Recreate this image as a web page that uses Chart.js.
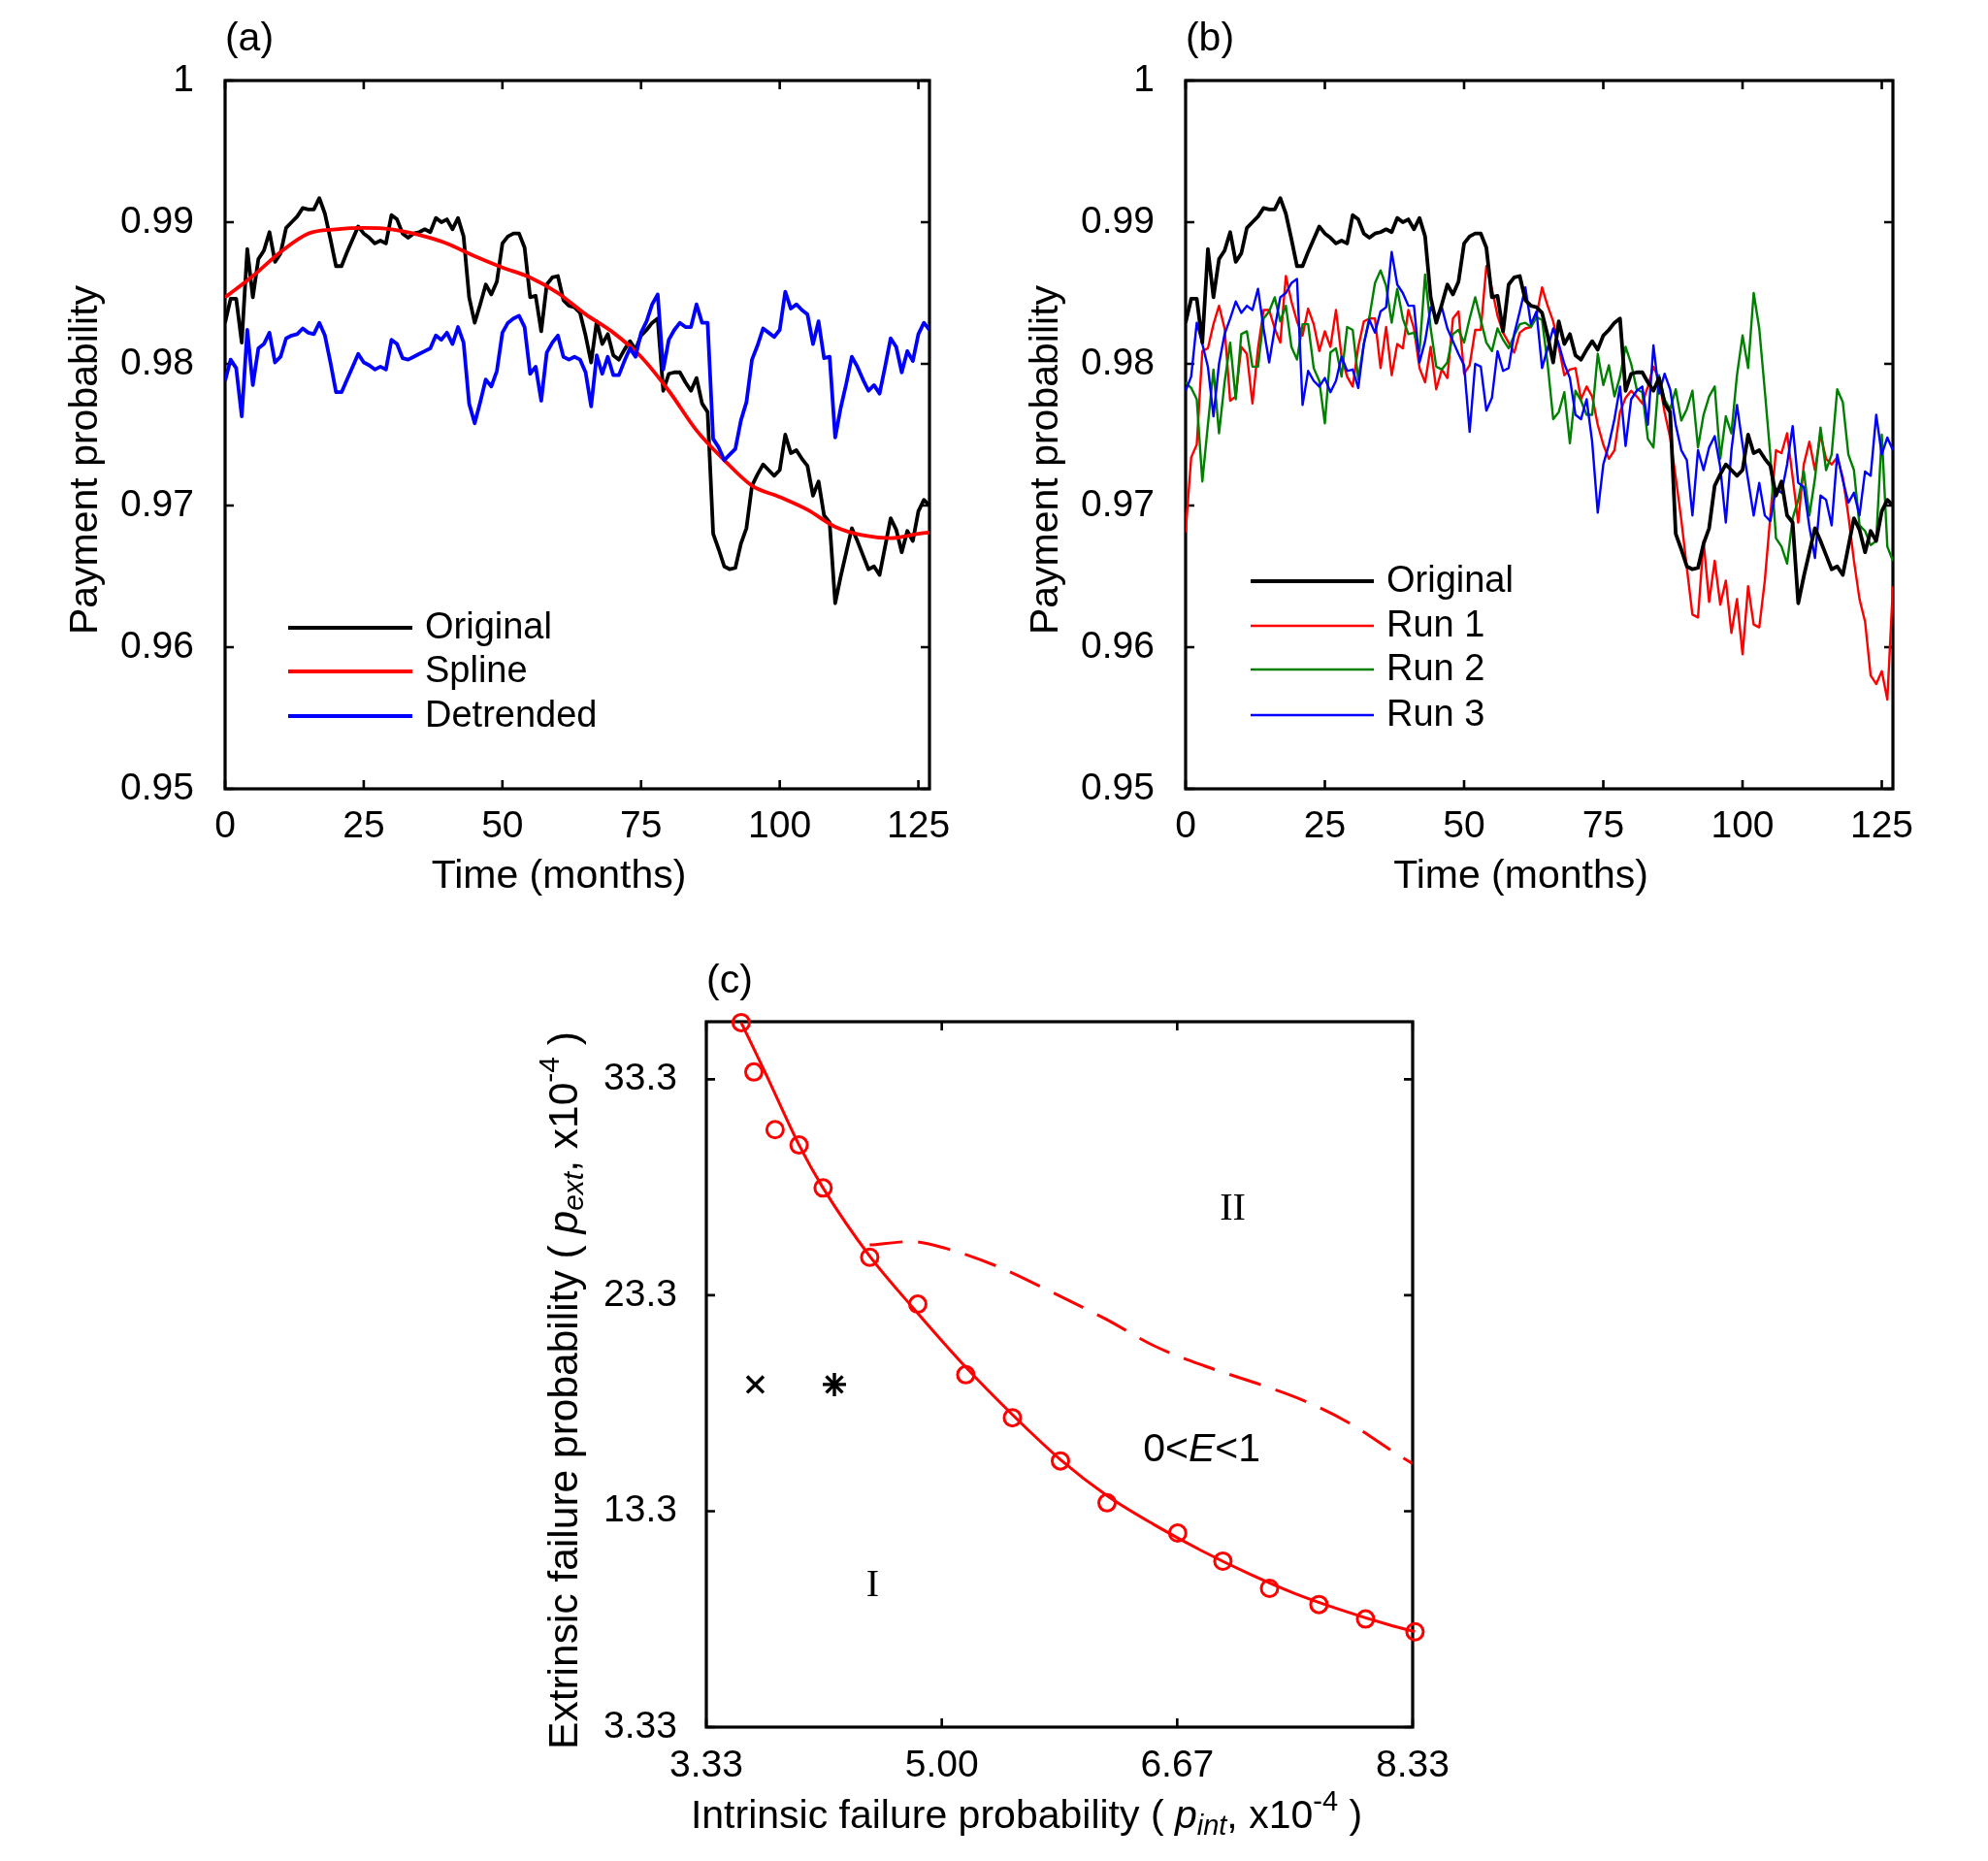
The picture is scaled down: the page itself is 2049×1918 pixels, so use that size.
<!DOCTYPE html>
<html><head><meta charset="utf-8">
<script src="https://cdn.jsdelivr.net/npm/chart.js@4.4.1/dist/chart.umd.min.js"></script>
<style>
html,body{margin:0;padding:0;background:#fff;}
#wrap{position:relative;width:2049px;height:1918px;background:#fff;overflow:hidden;}
canvas{position:absolute;left:0;top:0;}
</style></head><body>
<div id="wrap">
<canvas id="ca" width="2049" height="1918"></canvas>
<canvas id="cb" width="2049" height="1918"></canvas>
<canvas id="cc" width="2049" height="1918"></canvas>
</div>
<script>
const FONT = "'Liberation Sans', Arial, Helvetica, sans-serif";
const SERIF = "'Liberation Serif', 'Times New Roman', serif";
const TICK_FS = 39, TITLE_FS = 41, LEGEND_FS = 38;

// ---------- Panels (a) and (b): monthly payment probability ----------
const months = Array.from({length: 128}, (_, i) => i);
const original = [
0.9829,0.9846,0.9846,0.9815,0.9881,0.9847,0.9874,0.9880,0.9893,0.9872,
0.9878,0.9896,0.9900,0.9904,0.9910,0.9909,0.9909,0.9917,0.9906,0.9888,
0.9869,0.9869,0.9879,0.9888,0.9897,0.9892,0.9889,0.9885,0.9887,0.9885,
0.9905,0.9902,0.9892,0.9889,0.9892,0.9893,0.9895,0.9893,0.9903,0.9900,
0.9902,0.9895,0.9903,0.9890,0.9847,0.9829,0.9842,0.9856,0.9849,0.9858,
0.9885,0.9890,0.9892,0.9892,0.9882,0.9847,0.9848,0.9823,0.9856,0.9861,
0.9862,0.9845,0.9841,0.9840,0.9836,0.9820,0.9801,0.9830,0.9814,0.9821,
0.9806,0.9803,0.9810,0.9816,0.9810,0.9820,0.9824,0.9829,0.9832,0.9781,
0.9793,0.9794,0.9794,0.9787,0.9781,0.9790,0.9772,0.9766,0.9680,0.9669,
0.9657,0.9655,0.9656,0.9673,0.9684,0.9714,0.9722,0.9729,0.9725,0.9721,
0.9725,0.9750,0.9737,0.9739,0.9733,0.9728,0.9707,0.9717,0.9693,0.9688,
0.9631,0.9650,0.9667,0.9684,0.9675,0.9665,0.9655,0.9657,0.9651,0.9671,
0.9691,0.9683,0.9667,0.9682,0.9675,0.9696,0.9704,0.9700];
const detrended = [
0.9788,0.9803,0.9797,0.9763,0.9824,0.9785,0.9811,0.9814,0.9822,0.9801,
0.9805,0.9818,0.9820,0.9821,0.9825,0.9822,0.9821,0.9829,0.9820,0.9801,
0.9780,0.9780,0.9789,0.9798,0.9807,0.9801,0.9799,0.9796,0.9798,0.9796,
0.9817,0.9814,0.9804,0.9803,0.9805,0.9807,0.9809,0.9811,0.9820,0.9817,
0.9822,0.9814,0.9826,0.9815,0.9772,0.9758,0.9773,0.9789,0.9784,0.9795,
0.9822,0.9829,0.9832,0.9834,0.9826,0.9793,0.9798,0.9774,0.9808,0.9815,
0.9820,0.9805,0.9803,0.9805,0.9803,0.9794,0.9770,0.9806,0.9793,0.9805,
0.9792,0.9792,0.9802,0.9811,0.9805,0.9822,0.9830,0.9842,0.9849,0.9796,
0.9817,0.9824,0.9829,0.9826,0.9826,0.9842,0.9829,0.9829,0.9747,0.9741,
0.9732,0.9736,0.9740,0.9760,0.9773,0.9803,0.9813,0.9825,0.9822,0.9819,
0.9824,0.9851,0.9839,0.9842,0.9838,0.9835,0.9814,0.9830,0.9804,0.9805,
0.9748,0.9769,0.9786,0.9805,0.9798,0.9789,0.9781,0.9785,0.9779,0.9798,
0.9818,0.9812,0.9794,0.9809,0.9802,0.9821,0.9829,0.9824];
const splineMonths = [0,5,10,15,20,25,30,35,40,45,50,55,60,65,70,75,80,85,90,95,100,105,110,115,120,125,127];
const splineValues = [0.9847,0.9862,0.9879,0.9892,0.9895,0.9896,0.9895,0.9891,0.9885,0.9876,0.9868,0.9861,0.9850,0.9835,0.9822,0.9805,0.9781,0.9753,0.9732,0.9714,0.9706,0.9697,0.9685,0.9679,0.9677,0.9680,0.9681];
const run1 = [
0.9681,0.9734,0.9743,0.9809,0.9811,0.9828,0.9841,0.9825,0.9774,0.9777,
0.9812,0.9807,0.9772,0.9811,0.9838,0.9838,0.9825,0.9815,0.9862,0.9844,
0.9830,0.9820,0.9839,0.9828,0.9809,0.9823,0.9812,0.9838,0.9805,0.9791,
0.9784,0.9812,0.9830,0.9832,0.9832,0.9797,0.9826,0.9792,0.9814,0.9811,
0.9838,0.9825,0.9797,0.9787,0.9812,0.9782,0.9796,0.9790,0.9832,0.9837,
0.9793,0.9799,0.9824,0.9824,0.9869,0.9853,0.9834,0.9822,0.9815,0.9808,
0.9822,0.9825,0.9826,0.9834,0.9854,0.9841,0.9830,0.9812,0.9792,0.9796,
0.9797,0.9775,0.9784,0.9777,0.9757,0.9743,0.9733,0.9739,0.9766,0.9776,
0.9781,0.9777,0.9772,0.9784,0.9798,0.9789,0.9766,0.9748,0.9720,0.9690,
0.9656,0.9623,0.9621,0.9675,0.9632,0.9661,0.9630,0.9647,0.9610,0.9634,
0.9595,0.9643,0.9616,0.9614,0.9647,0.9693,0.9739,0.9737,0.9751,0.9720,
0.9688,0.9729,0.9745,0.9725,0.9750,0.9733,0.9729,0.9734,0.9720,0.9693,
0.9661,0.9634,0.9618,0.9580,0.9574,0.9583,0.9563,0.9643];
const run2 = [
0.9787,0.9783,0.9775,0.9717,0.9757,0.9796,0.9751,0.9787,0.9815,0.9775,
0.9821,0.9823,0.9798,0.9798,0.9832,0.9837,0.9847,0.9830,0.9841,0.9812,
0.9803,0.9828,0.9828,0.9797,0.9788,0.9758,0.9808,0.9811,0.9791,0.9826,
0.9824,0.9789,0.9814,0.9833,0.9857,0.9866,0.9855,0.9829,0.9853,0.9832,
0.9821,0.9822,0.9809,0.9863,0.9825,0.9798,0.9796,0.9801,0.9821,0.9824,
0.9815,0.9832,0.9847,0.9831,0.9815,0.9809,0.9825,0.9817,0.9811,0.9820,
0.9828,0.9829,0.9826,0.9833,0.9831,0.9800,0.9761,0.9766,0.9780,0.9744,
0.9781,0.9774,0.9764,0.9764,0.9807,0.9785,0.9799,0.9777,0.9791,0.9812,
0.9800,0.9782,0.9780,0.9747,0.9741,0.9792,0.9775,0.9768,0.9782,0.9760,
0.9768,0.9781,0.9741,0.9764,0.9777,0.9784,0.9733,0.9763,0.9751,0.9792,
0.9820,0.9797,0.9850,0.9825,0.9781,0.9735,0.9677,0.9671,0.9659,0.9691,
0.9704,0.9724,0.9693,0.9719,0.9755,0.9725,0.9736,0.9782,0.9773,0.9736,
0.9725,0.9686,0.9682,0.9672,0.9675,0.9750,0.9671,0.9661];
const run3 = [
0.9781,0.9791,0.9829,0.9814,0.9798,0.9763,0.9800,0.9821,0.9832,0.9844,
0.9836,0.9841,0.9838,0.9853,0.9825,0.9801,0.9825,0.9847,0.9850,0.9857,
0.9860,0.9771,0.9795,0.9788,0.9784,0.9790,0.9780,0.9788,0.9805,0.9795,
0.9796,0.9783,0.9814,0.9831,0.9822,0.9837,0.9840,0.9879,0.9856,0.9850,
0.9841,0.9841,0.9801,0.9816,0.9840,0.9833,0.9840,0.9825,0.9816,0.9807,
0.9799,0.9752,0.9800,0.9798,0.9767,0.9776,0.9809,0.9795,0.9797,0.9821,
0.9837,0.9854,0.9828,0.9837,0.9797,0.9811,0.9825,0.9814,0.9800,0.9790,
0.9764,0.9761,0.9775,0.9745,0.9695,0.9729,0.9743,0.9761,0.9784,0.9742,
0.9775,0.9781,0.9784,0.9757,0.9813,0.9779,0.9793,0.9782,0.9757,0.9739,
0.9732,0.9693,0.9739,0.9725,0.9741,0.9749,0.9727,0.9688,0.9739,0.9771,
0.9743,0.9718,0.9693,0.9716,0.9693,0.9689,0.9712,0.9709,0.9729,0.9756,
0.9716,0.9713,0.9685,0.9663,0.9707,0.9704,0.9686,0.9736,0.9718,0.9702,
0.9709,0.9693,0.9724,0.9721,0.9764,0.9736,0.9748,0.9739];
const timeTicks = [0,25,50,75,100,125];
const timeTickLabels = ['0','25','50','75','100','125'];
const probTicks = [0.95,0.96,0.97,0.98,0.99,1];
const probTickLabels = ['0.95','0.96','0.97','0.98','0.99','1'];

// ---------- Panel (c): phase diagram ----------
const pIntPoints = [3.58,3.67,3.82,3.99,4.16,4.49,4.83,5.17,5.50,5.84,6.17,6.67,6.99,7.32,7.67,8.00,8.35];
const pExtPoints = [35.96,33.67,31.00,30.29,28.30,25.09,22.92,19.65,17.66,15.66,13.72,12.32,11.02,9.76,9.01,8.34,7.75];
const pIntFit = [3.58,3.75,3.99,4.16,4.49,4.83,5.17,5.50,5.84,6.17,6.50,6.84,7.17,7.50,7.84,8.17,8.35];
const pExtFit = [35.96,33.65,30.29,28.30,25.14,22.50,20.00,17.80,15.72,14.05,12.72,11.50,10.45,9.52,8.73,8.06,7.75];
const pIntDash = [4.49,4.79,5.03,5.39,5.81,6.16,6.51,6.86,7.28,7.56,7.88,8.23,8.33];
const pExtDash = [25.66,25.82,25.50,24.68,23.38,22.23,20.97,20.06,19.14,18.46,17.43,15.94,15.55];
const crossPoint = {x: 3.68, y: 19.2};
const starPoint = {x: 4.24, y: 19.2};
const regionLabels = [
  {text: 'II', x: 7.06, y: 27.3},
  {text: 'I', x: 4.51, y: 9.87}
];
const energyLabel = {x: 6.84, y: 16.17};
const pIntTicks = [10/3, 5, 20/3, 25/3];
const pIntTickLabels = ['3.33','5.00','6.67','8.33'];
const pExtTicks = [10/3, 40/3, 70/3, 100/3];
const pExtTickLabels = ['3.33','13.3','23.3','33.3'];

// ---------- helpers ----------
const pts = (xs, ys) => xs.map((x, i) => ({x, y: ys[i]}));
function lineDs(label, xs, ys, color, width, order, extra) {
  return Object.assign({label, data: pts(xs, ys), borderColor: color, backgroundColor: color,
    borderWidth: width, pointRadius: 0, tension: 0, fill: false, order, showLine: true,
    borderJoinStyle: 'round', borderCapStyle: 'butt'}, extra || {});
}
function drawRich(ctx, segs, cx, cy, rot) {
  ctx.save();
  ctx.translate(cx, cy);
  if (rot) ctx.rotate(rot);
  let total = 0;
  segs.forEach(s => { ctx.font = s.f; s.w = ctx.measureText(s.t).width; total += s.w; });
  let x = -total / 2;
  ctx.textBaseline = 'middle'; ctx.textAlign = 'left'; ctx.fillStyle = '#000';
  segs.forEach(s => { ctx.font = s.f; ctx.fillText(s.t, x, s.dy || 0); x += s.w; });
  ctx.restore();
}
function framePlugin(id, draw) {
  return {
    id: 'frame' + id,
    beforeDatasetsDraw(chart) {
      const {ctx, chartArea: a, scales: {x, y}} = chart;
      ctx.save();
      ctx.strokeStyle = '#000';
      ctx.lineWidth = 2.6;
      const tl = 9;
      ctx.beginPath();
      x.ticks.forEach(t => {
        const px = x.getPixelForValue(t.value);
        ctx.moveTo(px, a.bottom); ctx.lineTo(px, a.bottom - tl);
        ctx.moveTo(px, a.top); ctx.lineTo(px, a.top + tl);
      });
      y.ticks.forEach(t => {
        const py = y.getPixelForValue(t.value);
        ctx.moveTo(a.left, py); ctx.lineTo(a.left + tl, py);
        ctx.moveTo(a.right, py); ctx.lineTo(a.right - tl, py);
      });
      ctx.stroke();
      ctx.lineWidth = 3.2;
      ctx.strokeRect(a.left, a.top, a.right - a.left, a.bottom - a.top);
      ctx.restore();
    },
    afterDraw(chart) { draw(chart); }
  };
}
function axisOpts(min, max, ticks, labels, isX, pad) {
  const o = {
    type: 'linear', min, max,
    afterBuildTicks: s => { s.ticks = ticks.map(v => ({value: v})); },
    ticks: {callback: (v, i) => labels[i], color: '#000', autoSkip: false, maxRotation: 0,
      padding: pad, font: {family: FONT, size: TICK_FS, lineHeight: 1}},
    grid: {display: false, drawTicks: false},
    border: {display: false}
  };
  if (isX) o.afterFit = s => { s.height = 130; };
  else o.afterFit = s => { s.width = 180; };
  return o;
}
function baseOptions(padding, xs, ys) {
  return {
    responsive: false, animation: false, devicePixelRatio: 1, events: [],
    layout: {padding},
    plugins: {legend: {display: false}, tooltip: {enabled: false}},
    scales: {x: xs, y: ys}
  };
}
function drawLegend(chart, offs) {
  const {ctx, chartArea: a} = chart;
  ctx.save();
  ctx.font = LEGEND_FS + 'px ' + FONT;
  ctx.textBaseline = 'middle'; ctx.textAlign = 'left'; ctx.fillStyle = '#000';
  chart.data.datasets.forEach((d, i) => {
    const y = a.top + offs.rows[i];
    ctx.strokeStyle = d.borderColor; ctx.lineWidth = d.borderWidth; ctx.lineCap = 'butt';
    ctx.beginPath(); ctx.moveTo(a.left + offs.x0, y); ctx.lineTo(a.left + offs.x1, y); ctx.stroke();
    ctx.fillText(d.label, a.left + offs.xt, y + 1);
  });
  ctx.restore();
}
function drawTimeTitles(chart, tag) {
  const {ctx, chartArea: a} = chart;
  ctx.save();
  ctx.fillStyle = '#000'; ctx.font = TITLE_FS + 'px ' + FONT;
  ctx.textAlign = 'center'; ctx.textBaseline = 'middle';
  ctx.fillText(tag, a.left + 25, a.top - 42);
  ctx.fillText('Time (months)', (a.left + a.right) / 2 - 19, a.bottom + 91);
  ctx.translate(a.left - 143, (a.top + a.bottom) / 2 + 26);
  ctx.rotate(-Math.PI / 2);
  ctx.fillText('Payment probability', 0, 0);
  ctx.restore();
}

// ---------- Chart (a) ----------
new Chart(document.getElementById('ca'), {
  type: 'line',
  data: {datasets: [
    lineDs('Original', months, original, '#000000', 3.8, 2),
    lineDs('Spline', splineMonths, splineValues, '#ff0000', 3.8, 1, {cubicInterpolationMode: 'monotone'}),
    lineDs('Detrended', months, detrended, '#0000ff', 3.8, 0)
  ]},
  options: baseOptions({left: 52, right: 1091, top: 83, bottom: 975},
    axisOpts(0, 127, timeTicks, timeTickLabels, true, 20),
    axisOpts(0.95, 1, probTicks, probTickLabels, false, 32)),
  plugins: [framePlugin('a', chart => {
    drawTimeTitles(chart, '(a)');
    drawLegend(chart, {x0: 65, x1: 193, xt: 206, rows: [564, 609, 655]});
  })]
});

// ---------- Chart (b) ----------
new Chart(document.getElementById('cb'), {
  type: 'line',
  data: {datasets: [
    lineDs('Original', months, original, '#000000', 3.8, 0),
    lineDs('Run 1', months, run1, '#ff0000', 2.4, 3),
    lineDs('Run 2', months, run2, '#008000', 2.4, 2),
    lineDs('Run 3', months, run3, '#0000ff', 2.4, 1)
  ]},
  options: baseOptions({left: 1042, right: 98, top: 83, bottom: 975},
    axisOpts(0, 127, timeTicks, timeTickLabels, true, 20),
    axisOpts(0.95, 1, probTicks, probTickLabels, false, 32)),
  plugins: [framePlugin('b', chart => {
    drawTimeTitles(chart, '(b)');
    drawLegend(chart, {x0: 67, x1: 194, xt: 207, rows: [516, 562, 607, 654]});
  })]
});

// ---------- Chart (c) ----------
const N = TITLE_FS + 'px ' + FONT, I = 'italic ' + TITLE_FS + 'px ' + FONT;
const NS = '29px ' + FONT, IS = 'italic 29px ' + FONT;
const NY = '42.5px ' + FONT, IY = 'italic 42.5px ' + FONT;
const NSY = '30px ' + FONT, ISY = 'italic 30px ' + FONT;
new Chart(document.getElementById('cc'), {
  type: 'scatter',
  data: {datasets: [
    {label: 'Boundary points', data: pts(pIntPoints, pExtPoints), showLine: false, pointStyle: 'circle',
     pointRadius: 8.5, pointBorderWidth: 3, pointBorderColor: '#ff0000', pointBackgroundColor: 'rgba(0,0,0,0)',
     clip: false, order: 0},
    lineDs('Boundary fit', pIntFit, pExtFit, '#ff0000', 3, 1, {cubicInterpolationMode: 'monotone', clip: false}),
    lineDs('E = 1 boundary', pIntDash, pExtDash, '#ff0000', 3, 2, {cubicInterpolationMode: 'monotone', borderDash: [34, 16], clip: false}),
    {label: 'cross', data: [crossPoint], pointStyle: 'crossRot', pointRadius: 12, pointBorderWidth: 3.5,
     pointBorderColor: '#000', pointBackgroundColor: '#000', showLine: false, order: 0},
    {label: 'star', data: [starPoint], pointStyle: 'star', pointRadius: 12, pointBorderWidth: 3.4,
     pointBorderColor: '#000', pointBackgroundColor: '#000', showLine: false, order: 0}
  ]},
  options: baseOptions({left: 548, right: 593, top: 1053, bottom: 8},
    axisOpts(10/3, 25/3, pIntTicks, pIntTickLabels, true, 21),
    axisOpts(10/3, 36, pExtTicks, pExtTickLabels, false, 30)),
  plugins: [framePlugin('c', chart => {
    const {ctx, chartArea: a, scales: {x, y}} = chart;
    ctx.save();
    ctx.fillStyle = '#000'; ctx.textAlign = 'center'; ctx.textBaseline = 'middle';
    ctx.font = N;
    ctx.fillText('(c)', a.left + 24, a.top - 41);
    ctx.font = '40px ' + SERIF;
    regionLabels.forEach(r => ctx.fillText(r.text, x.getPixelForValue(r.x), y.getPixelForValue(r.y)));
    ctx.restore();
    drawRich(ctx, [{t: '0<', f: N}, {t: 'E', f: I}, {t: '<1', f: N}],
      x.getPixelForValue(energyLabel.x), y.getPixelForValue(energyLabel.y), 0);
    drawRich(ctx, [{t: 'Intrinsic failure probability ( ', f: N}, {t: 'p', f: I}, {t: 'int', f: IS, dy: 10},
      {t: ', x10', f: N}, {t: '-4', f: NS, dy: -15}, {t: ' )', f: N}], a.left + 330, a.bottom + 93, 0);
    drawRich(ctx, [{t: 'Extrinsic failure probability ( ', f: NY}, {t: 'p', f: IY}, {t: 'ext', f: ISY, dy: 10},
      {t: ', x10', f: NY}, {t: '-4', f: NSY, dy: -15}, {t: ' )', f: NY}], a.left - 145, a.top + 380, -Math.PI / 2);
  })]
});
</script>
</body></html>
